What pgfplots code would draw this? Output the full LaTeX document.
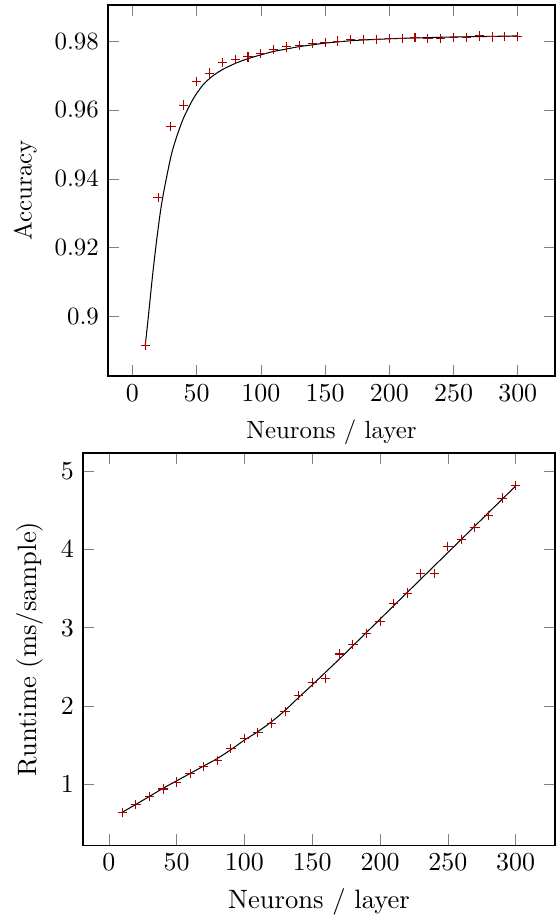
\documentclass[border=0pt]{standalone}
\usepackage{pgfplots}
\pgfplotsset{compat=1.18}
\definecolor{MarkRed}{RGB}{165, 0, 0}

\pgfplotstableread{
x acc
10 0.8917
20 0.9345
30 0.9551
40 0.9614
50 0.9683
60 0.9707
70 0.9738
80 0.9747
90 0.9754
100 0.9763
110 0.9775
120 0.9783
130 0.9788
140 0.9793
150 0.9795
160 0.9800
170 0.9804
180 0.9805
190 0.9805
200 0.9807
210 0.9808
220 0.9810
230 0.9808
240 0.9808
250 0.9811
260 0.9811
270 0.9815
280 0.9812
290 0.9814
300 0.9814
}\accdata

\pgfplotstableread{
x acc
10 0.8917
12 0.8985
16 0.9130
20 0.9255
23.5 0.9344
30 0.9465
35 0.9528
40 0.9578
47 0.9630
55 0.9673
63 0.9700
70 0.9717
80 0.9735
90 0.9749
100 0.9760
110 0.9770
120 0.9777
130 0.9784
140 0.9789
150 0.9794
170 0.9801
190 0.9805
210 0.9808
230 0.9810
250 0.9812
270 0.9813
300 0.9815
}\accfit

\pgfplotstableread{
x rt
10 0.643
20 0.743
30 0.845
40 0.941
50 1.030
60 1.136
70 1.229
80 1.306
90 1.455
100 1.586
110 1.662
120 1.782
130 1.930
140 2.134
150 2.304
160 2.355
170 2.665
180 2.790
190 2.930
200 3.081
210 3.311
220 3.442
230 3.693
240 3.693
250 4.037
260 4.126
270 4.279
280 4.436
290 4.656
300 4.814
}\rtdata

\pgfplotstableread{
x rt
10 0.645
20 0.745
30 0.847
40 0.950
50 1.045
60 1.140
70 1.235
80 1.330
90 1.443
100 1.565
110 1.675
120 1.800
130 1.945
140 2.110
150 2.270
160 2.435
170 2.600
180 2.770
190 2.940
200 3.110
210 3.280
220 3.450
230 3.620
240 3.790
250 3.960
260 4.130
270 4.300
280 4.470
290 4.640
300 4.810
}\rtfit

\begin{document}
\begin{tikzpicture}
\path[use as bounding box] (0,0) rectangle (214.23pt,-353.19pt);

% accuracy
\begin{axis}[
    at={(41.69pt,-1.93pt)}, anchor=north west,
    scale only axis,
    width=172.54pt, height=143.2pt,
    xlabel={Neurons / layer},
    ylabel={Accuracy},
    xtick={0,50,...,300},
    ytick={0.9,0.92,0.94,0.96,0.98},
    yticklabels={0.9,0.92,0.94,0.96,0.98},
    every tick label/.append style={font=\fontsize{9.6pt}{11.5pt}\selectfont},
    label style={font=\fontsize{9.6pt}{11.5pt}\selectfont},
]
\addplot[black, smooth, no marks] table[x=x, y=acc] {\accfit};
\addplot[only marks, mark=+, mark size=1.8pt, MarkRed] table[x=x, y=acc] {\accdata};
\end{axis}

% runtime
\begin{axis}[
    at={(32.04pt,-174.86pt)}, anchor=north west,
    scale only axis,
    width=182.19pt, height=151.31pt,
    xlabel={Neurons / layer},
    ylabel={Runtime (ms/sample)},
    xtick={0,50,...,300},
    ytick={1,2,3,4,5},
    every tick label/.append style={font=\fontsize{10.25pt}{12.3pt}\selectfont},
    label style={font=\fontsize{10.25pt}{12.3pt}\selectfont},
]
\addplot[black, smooth, no marks] table[x=x, y=rt] {\rtfit};
\addplot[only marks, mark=+, mark size=1.8pt, MarkRed] table[x=x, y=rt] {\rtdata};
\end{axis}
\end{tikzpicture}
\end{document}
